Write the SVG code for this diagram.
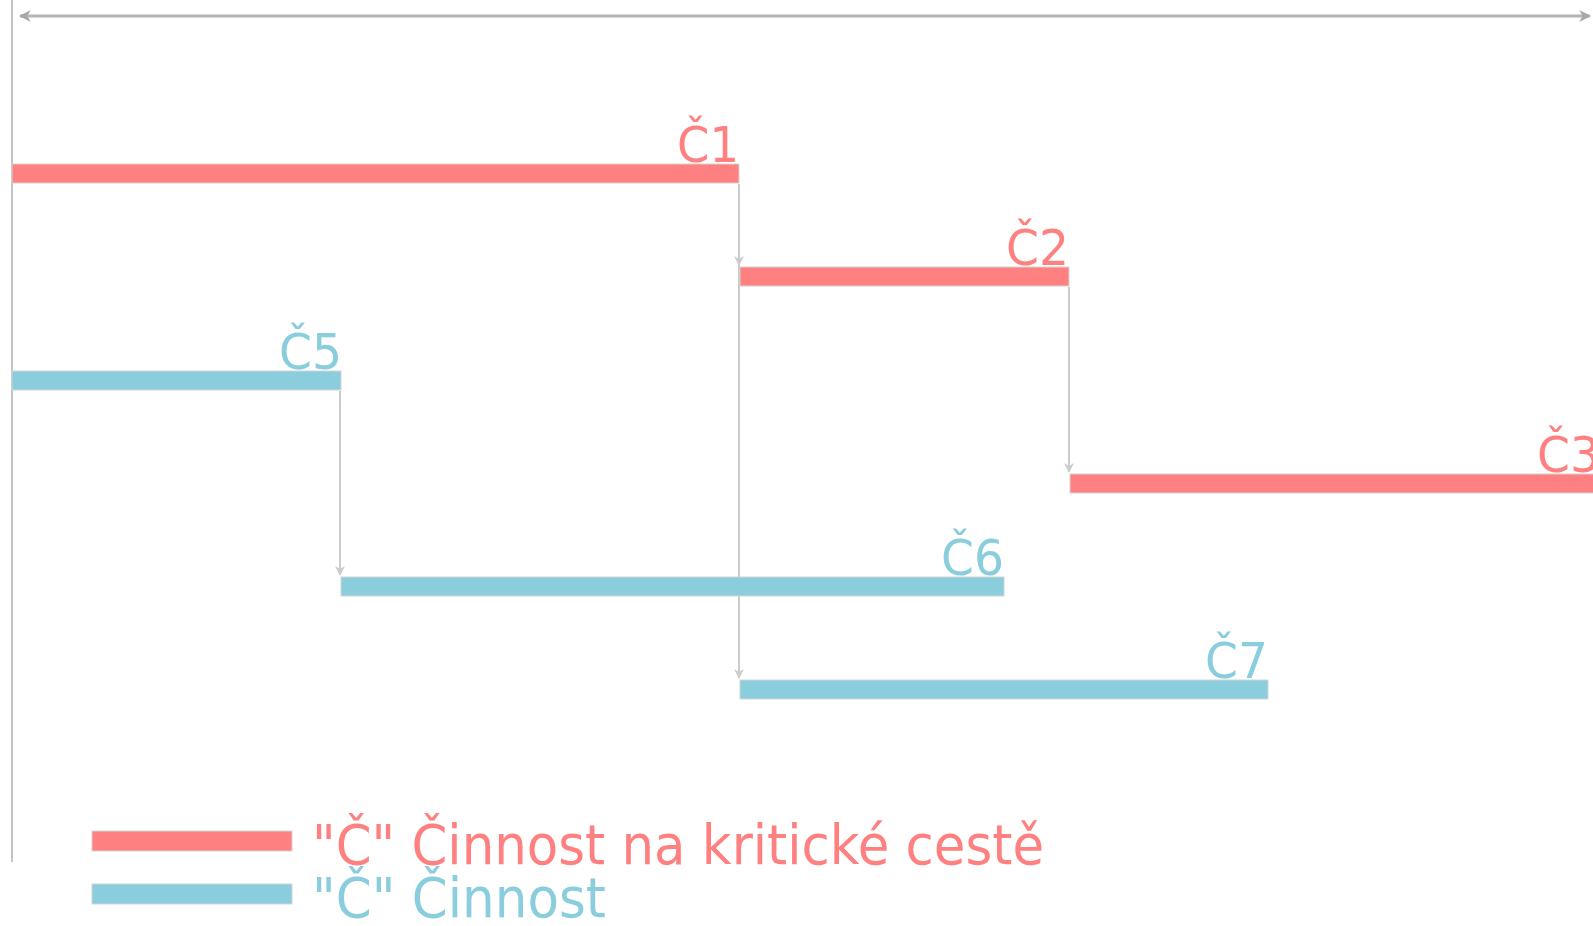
<svg xmlns="http://www.w3.org/2000/svg" width="1593" height="926" viewBox="0 0 1593 926">
<defs>
<marker id="ah" viewBox="0 0 10 10" refX="9" refY="5" markerWidth="5" markerHeight="5" orient="auto" markerUnits="strokeWidth">
<path d="M0,0 L10,5 L0,10 L3,5 z" fill="#cccccc"/>
</marker>
<marker id="axh" viewBox="0 0 10 10" refX="9" refY="5" markerWidth="4" markerHeight="4" orient="auto-start-reverse" markerUnits="strokeWidth">
<path d="M0,0 L10,5 L0,10 L3,5 z" fill="#a8a8a8"/>
</marker>
<style>
.crit{fill:#ff8080;stroke:#d4d4d4;stroke-width:1}
.norm{fill:#8acddd;stroke:#d4d4d4;stroke-width:1}
.lc{font-family:"DejaVu Sans","Verdana",sans-serif;font-size:50px;text-anchor:end}
.tc{fill:#ff8080}
.tn{fill:#8acddd}
.lg{font-family:"DejaVu Sans","Verdana",sans-serif;font-size:56px}
.con{stroke:#cccccc;stroke-width:2;fill:none;marker-end:url(#ah)}
</style>
</defs>
<rect width="1593" height="926" fill="#ffffff"/>
<g id="axes">
<line x1="12" y1="0" x2="12" y2="862" stroke="#c4c4c4" stroke-width="2"/>
<line x1="20" y1="16" x2="1590" y2="16" stroke="#b4b4b4" stroke-width="3" marker-start="url(#axh)" marker-end="url(#axh)"/>
</g>
<g id="connectors">
<line class="con" x1="739" y1="184" x2="739" y2="265"/>
<line class="con" x1="739" y1="184" x2="739" y2="678"/>
<line class="con" x1="1069" y1="287" x2="1069" y2="472"/>
<line class="con" x1="340" y1="391" x2="340" y2="575"/>
</g>
<g id="C1">
<rect class="crit" x="12" y="164" width="727" height="19"/>
<text class="lc tc" x="739" y="162" textLength="62" lengthAdjust="spacingAndGlyphs">Č1</text>
</g>
<g id="C2">
<rect class="crit" x="740" y="267" width="329" height="19"/>
<text class="lc tc" x="1069" y="265" textLength="63" lengthAdjust="spacingAndGlyphs">Č2</text>
</g>
<g id="C5">
<rect class="norm" x="12" y="371" width="329" height="19"/>
<text class="lc tn" x="342" y="369" textLength="63" lengthAdjust="spacingAndGlyphs">Č5</text>
</g>
<g id="C3">
<rect class="crit" x="1070" y="474" width="540" height="19"/>
<text class="lc tc" x="1600" y="472" textLength="63" lengthAdjust="spacingAndGlyphs">Č3</text>
</g>
<g id="C6">
<rect class="norm" x="341" y="577" width="663" height="19"/>
<text class="lc tn" x="1004" y="575" textLength="63" lengthAdjust="spacingAndGlyphs">Č6</text>
</g>
<g id="C7">
<rect class="norm" x="740" y="680" width="528" height="19"/>
<text class="lc tn" x="1268" y="678" textLength="63" lengthAdjust="spacingAndGlyphs">Č7</text>
</g>
<g id="legend">
<rect class="crit" x="92" y="831" width="200" height="20" stroke="none"/>
<text class="lg tc" x="312" y="864" textLength="732" lengthAdjust="spacingAndGlyphs">"Č" Činnost na kritické cestě</text>
<rect class="norm" x="92" y="884" width="200" height="20" stroke="none"/>
<text class="lg tn" x="312" y="917" textLength="294" lengthAdjust="spacingAndGlyphs">"Č" Činnost</text>
</g>
</svg>
